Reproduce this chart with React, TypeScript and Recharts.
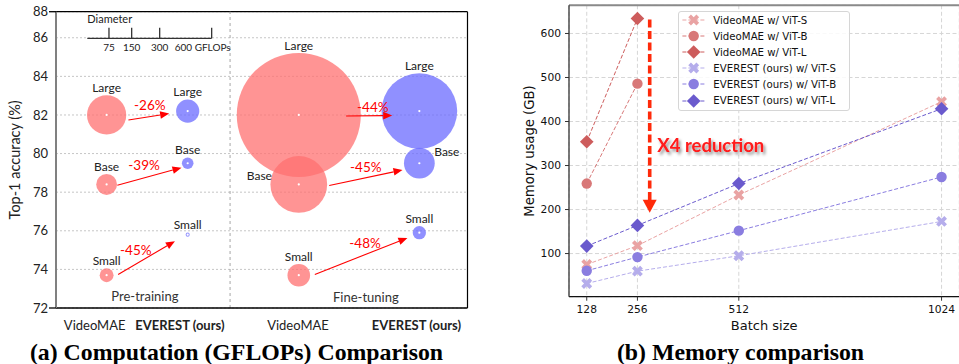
import React from 'react';
import {
  ScatterChart,
  Scatter,
  LineChart,
  Line,
  XAxis,
  YAxis,
  CartesianGrid,
  ReferenceLine,
  ReferenceDot,
  Legend,
} from 'recharts';

const SANS = 'Lato, "Open Sans", sans-serif';
const MPL = '"DejaVu Sans", sans-serif';
const SERIF = '"Liberation Serif", "Times New Roman", serif';

// ---------- (a) top-1 accuracy vs computation ----------
const MODEL_SIZES = ['Small', 'Base', 'Large'];
const VIDEOMAE_ACC = [73.7, 78.4, 82.0];
const EVEREST_PT_ACC = [75.8, 79.5, 82.2];
const EVEREST_FT_ACC = [75.9, 79.5, 82.2];
// GFLOPs
const VIDEOMAE_PT_GFLOPS = [48, 72, 133];
const EVEREST_PT_GFLOPS = [14, 40, 80];
const VIDEOMAE_FT_GFLOPS = [78, 216, 598];
const EVEREST_FT_GFLOPS = [46, 105, 319];
const PT_CUT = ['-45%', '-39%', '-26%'];
const FT_CUT = ['-48%', '-45%', '-44%'];
const SCALE_GFLOPS = [75, 150, 300, 600];
const GROUP_LABELS = ['VideoMAE', 'EVEREST (ours)', 'VideoMAE', 'EVEREST (ours)'];
const STAGES = ['Pre-training', 'Fine-tuning'];
const ACC_TICKS = [72, 74, 76, 78, 80, 82, 84, 86, 88];

// ---------- (b) memory vs batch size ----------
const BATCH_SIZES = [128, 256, 512, 1024];
const VIDEOMAE_S_MEM = [75, 118, 233, 445];
const VIDEOMAE_B_MEM = [259, 486, null, null];
const VIDEOMAE_L_MEM = [354, 634, null, null];
const EVEREST_S_MEM = [32, 60, 95, 173];
const EVEREST_B_MEM = [61, 92, 152, 274];
const EVEREST_L_MEM = [117, 164, 259, 429];
const MEM_TICKS = [100, 200, 300, 400, 500, 600];

// layout of panel (a): x runs 0..100 across the frame
const Y_TOP = 87.35; // frame top, the figure's "88" line
const GROUP_X = [12.3, 32, 59, 88.3];
const GROUP_LABEL_X = [9.4, 30.1, 58.8, 87.6];
const DIVIDER_X = 42.3;
const SCALE_PX = [21.7, 44.4, 72.4, 124.4]; // drawn diameter of SCALE_GFLOPS
const SCALE_ORIGIN = [{ x: 7.6, y: 85.97 }];
const ARROWS = [
  [[15.1, 73.74], [28.9, 75.46]],
  [[14.9, 78.36], [30.5, 79.27]],
  [[17.6, 81.74], [27.5, 82.07]],
  [[62.9, 73.74], [85.4, 75.63]],
  [[66.4, 78.35], [84.2, 79.15]],
  [[70.5, 81.95], [81.7, 81.97]],
];
const CUT_POS = [[19.4, 75.0], [21.4, 79.4], [22.8, 82.48], [75.1, 75.35], [75.3, 79.31], [77.0, 82.38]];
const STAGE_POS = [[21.6, 72.62], [75.3, 72.53]];

const RED_FILL = '#ff7070';
const BLUE_FILL = '#6b6bff';
const ARROW_RED = '#ff0000';

function diameterOf(g: number) {
  let pg = 0;
  let pd = 0;
  for (let i = 0; i < SCALE_GFLOPS.length; i++) {
    const sg = SCALE_GFLOPS[i];
    const sd = SCALE_PX[i];
    if (g <= sg || i === SCALE_GFLOPS.length - 1) {
      return pd + ((g - pg) * (sd - pd)) / (sg - pg);
    }
    pg = sg;
    pd = sd;
  }
  return 0;
}

const makeBubbles = (group: number, acc: number[], gflops: number[], sides?: string[]) =>
  MODEL_SIZES.map((name, i) => ({
    x: GROUP_X[group],
    y: acc[i],
    g: gflops[i],
    name,
    side: sides ? sides[i] : 'top',
  }));

const videomaeBubbles = [
  ...makeBubbles(0, VIDEOMAE_ACC, VIDEOMAE_PT_GFLOPS),
  ...makeBubbles(2, VIDEOMAE_ACC, VIDEOMAE_FT_GFLOPS, ['top', 'left', 'top']),
];
const everestBubbles = [
  ...makeBubbles(1, EVEREST_PT_ACC, EVEREST_PT_GFLOPS),
  ...makeBubbles(3, EVEREST_FT_ACC, EVEREST_FT_GFLOPS, ['top', 'right', 'top']),
];
const cutLabels = [...PT_CUT, ...FT_CUT].map((text, i) => ({ x: CUT_POS[i][0], y: CUT_POS[i][1], text }));
const stageLabels = STAGES.map((text, i) => ({ x: STAGE_POS[i][0], y: STAGE_POS[i][1], text }));
const arrowData = ARROWS.map((a) => a.map(([x, y]) => ({ x, y })));

function Bubble(props: any) {
  const { cx, cy, payload, color } = props;
  if (cx == null || cy == null) return <g />;
  const r = diameterOf(payload.g) / 2;
  let label;
  if (payload.side === 'left') {
    label = (
      <text x={cx - r + 1.5} y={cy - 9} dy="0.35em" textAnchor="end">
        {payload.name}
      </text>
    );
  } else if (payload.side === 'right') {
    label = (
      <text x={cx + r - 0.5} y={cy - 11} dy="0.35em" textAnchor="start">
        {payload.name}
      </text>
    );
  } else {
    label = (
      <text x={cx} y={cy - r - 7.5} dy="0.35em" textAnchor="middle">
        {payload.name}
      </text>
    );
  }
  return (
    <g fontFamily={SANS} fontSize={12} fill="#222">
      <circle cx={cx} cy={cy} r={r} fill={color} fillOpacity={0.75} />
      <circle cx={cx} cy={cy} r={1.1} fill="#fff" />
      {label}
    </g>
  );
}

function renderArrow(p: any) {
  const pts = p.points;
  if (!pts || pts.length < 2) return <g />;
  const [a, b] = pts;
  const ang = Math.atan2(b.y - a.y, b.x - a.x);
  const len = 9;
  const half = 3.8;
  const bx = b.x - len * Math.cos(ang);
  const by = b.y - len * Math.sin(ang);
  const nx = -Math.sin(ang) * half;
  const ny = Math.cos(ang) * half;
  return (
    <g>
      <line x1={a.x} y1={a.y} x2={bx} y2={by} stroke={ARROW_RED} strokeWidth={1.1} />
      <polygon points={`${b.x},${b.y} ${bx + nx},${by + ny} ${bx - nx},${by - ny}`} fill={ARROW_RED} />
    </g>
  );
}

function ScaleBar(props: any) {
  const { cx, cy } = props;
  if (cx == null || cy == null) return <g />;
  const end = cx + diameterOf(SCALE_GFLOPS[SCALE_GFLOPS.length - 1]);
  return (
    <g fontFamily={SANS} fill="#222">
      <text x={cx} y={cy - 19} dy="0.35em" fontSize={11}>
        Diameter
      </text>
      <line x1={cx} y1={cy} x2={end} y2={cy} stroke="#333" strokeWidth={1.3} />
      {SCALE_GFLOPS.map((g, i) => {
        const tx = cx + diameterOf(g);
        const last = i === SCALE_GFLOPS.length - 1;
        return (
          <g key={g}>
            <line x1={tx} y1={cy - 10.5} x2={tx} y2={cy} stroke="#333" strokeWidth={1.3} />
            <text x={last ? tx - 9 : tx} y={cy + 9.5} dy="0.35em" fontSize={10} textAnchor="middle">
              {last ? `${g} GFLOPs` : g}
            </text>
          </g>
        );
      })}
    </g>
  );
}

function CutText(props: any) {
  const { cx, cy, payload } = props;
  if (cx == null || cy == null) return <g />;
  return (
    <text x={cx} y={cy} dy="0.35em" textAnchor="middle" fontFamily={SANS} fontSize={13.5} fill={ARROW_RED}>
      {payload.text}
    </text>
  );
}

function StageText(props: any) {
  const { cx, cy, payload } = props;
  if (cx == null || cy == null) return <g />;
  return (
    <text x={cx} y={cy} dy="0.35em" textAnchor="middle" fontFamily={SANS} fontSize={13} fill="#333">
      {payload.text}
    </text>
  );
}

function GroupTick(props: any) {
  const { x, y, index } = props;
  const label = GROUP_LABELS[index] ?? '';
  return (
    <text
      x={x}
      y={y}
      dy="0.71em"
      textAnchor="middle"
      fontFamily={SANS}
      fontSize={13}
      fontWeight={label.startsWith('EVEREST') ? 700 : 400}
      fill="#222"
    >
      {label}
    </text>
  );
}

function AccTick(props: any) {
  const { x, y, index } = props;
  const edge = index === 0 || index === ACC_TICKS.length - 1;
  return (
    <g>
      {edge && <line x1={x + 1} y1={y} x2={x + 8} y2={y} stroke="#000" strokeWidth={1.3} />}
      <text x={x} y={y} dy="0.35em" textAnchor="end" fontFamily={SANS} fontSize={13} fill="#222">
        {ACC_TICKS[index]}
      </text>
    </g>
  );
}

function ComputationChart() {
  const yTicks = ACC_TICKS.map((t) => (t > Y_TOP ? Y_TOP : t));
  return (
    <ScatterChart width={480} height={364} margin={{ top: 11.7, right: 12.5, bottom: 26, left: 12 }}>
      <CartesianGrid vertical={false} stroke="#c6c6c6" strokeDasharray="2 2" />
      <XAxis
        type="number"
        dataKey="x"
        domain={[0, 100]}
        ticks={GROUP_LABEL_X}
        tick={<GroupTick />}
        tickLine={false}
        tickSize={0}
        tickMargin={12.5}
        axisLine={{ stroke: '#000', strokeWidth: 1.6 }}
        height={30}
        allowDataOverflow
      />
      <YAxis
        type="number"
        dataKey="y"
        domain={[72, Y_TOP]}
        ticks={yTicks}
        tick={<AccTick />}
        tickLine={false}
        tickSize={7}
        tickMargin={1}
        axisLine={{ stroke: '#808080', strokeWidth: 2 }}
        width={44}
        allowDataOverflow
        label={{
          value: 'Top-1 accuracy (%)',
          angle: -90,
          position: 'insideLeft',
          offset: 3.3,
          style: { textAnchor: 'middle', fontFamily: SANS, fontSize: 14.5, fill: '#222' },
        }}
      />
      <ReferenceLine y={Y_TOP} stroke="#000" strokeWidth={1.2} />
      <ReferenceLine x={100} stroke="#000" strokeWidth={1.2} />
      <ReferenceLine x={DIVIDER_X} stroke="#a6a6a6" strokeDasharray="3 3" />
      <Scatter data={SCALE_ORIGIN} shape={(p: any) => <ScaleBar {...p} />} isAnimationActive={false} />
      <Scatter
        data={videomaeBubbles}
        shape={(p: any) => <Bubble {...p} color={RED_FILL} />}
        isAnimationActive={false}
      />
      <Scatter
        data={everestBubbles}
        shape={(p: any) => <Bubble {...p} color={BLUE_FILL} />}
        isAnimationActive={false}
      />
      {arrowData.map((d, i) => (
        <Scatter
          key={`arrow-${i}`}
          data={d}
          line={renderArrow}
          lineType="joint"
          shape={() => <g />}
          isAnimationActive={false}
        />
      ))}
      <Scatter data={cutLabels} shape={(p: any) => <CutText {...p} />} isAnimationActive={false} />
      <Scatter data={stageLabels} shape={(p: any) => <StageText {...p} />} isAnimationActive={false} />
    </ScatterChart>
  );
}

// ---------- panel (b) ----------
const SERIES = [
  { key: 'vmS', name: 'VideoMAE w/ ViT-S', values: VIDEOMAE_S_MEM, color: '#e9a3a3', marker: 'x' },
  { key: 'vmB', name: 'VideoMAE w/ ViT-B', values: VIDEOMAE_B_MEM, color: '#d87878', marker: 'o' },
  { key: 'vmL', name: 'VideoMAE w/ ViT-L', values: VIDEOMAE_L_MEM, color: '#cd5c5c', marker: 'd' },
  { key: 'evS', name: 'EVEREST (ours) w/ ViT-S', values: EVEREST_S_MEM, color: '#b5adeb', marker: 'x' },
  { key: 'evB', name: 'EVEREST (ours) w/ ViT-B', values: EVEREST_B_MEM, color: '#8a7de0', marker: 'o' },
  { key: 'evL', name: 'EVEREST (ours) w/ ViT-L', values: EVEREST_L_MEM, color: '#6a5acd', marker: 'd' },
];

const memData = BATCH_SIZES.map((batch, i) => {
  const row: Record<string, number | null> = { batch };
  SERIES.forEach((s) => {
    row[s.key] = s.values[i];
  });
  return row;
});

const X_ARM = 5.8;
const X_HALF = 1.9;
const X_POINTS = [
  [-X_HALF, -X_ARM], [X_HALF, -X_ARM], [X_HALF, -X_HALF], [X_ARM, -X_HALF],
  [X_ARM, X_HALF], [X_HALF, X_HALF], [X_HALF, X_ARM], [-X_HALF, X_ARM],
  [-X_HALF, X_HALF], [-X_ARM, X_HALF], [-X_ARM, -X_HALF], [-X_HALF, -X_HALF],
]
  .map((p) => p.join(','))
  .join(' ');

function Marker({ kind, cx, cy, color }: { kind: string; cx: number; cy: number; color: string }) {
  if (kind === 'x') {
    return <polygon points={X_POINTS} transform={`translate(${cx},${cy}) rotate(45)`} fill={color} />;
  }
  if (kind === 'o') {
    return <circle cx={cx} cy={cy} r={5.2} fill={color} />;
  }
  return <polygon points="0,-6.8 6.8,0 0,6.8 -6.8,0" transform={`translate(${cx},${cy})`} fill={color} />;
}

function MemLegend() {
  return (
    <div
      style={{
        boxSizing: 'border-box',
        width: 172,
        height: 100,
        border: '1px solid #d6d6d6',
        borderRadius: 3,
        background: 'rgba(255,255,255,0.85)',
        fontFamily: MPL,
        fontSize: 10.2,
        color: '#111',
      }}
    >
      {SERIES.map((s) => (
        <div key={s.key} style={{ height: 16.1, display: 'flex', alignItems: 'center' }}>
          <svg width={30} height={16} style={{ flexShrink: 0 }}>
            <line x1={3.4} x2={25.7} y1={8} y2={8} stroke={s.color} strokeWidth={1} strokeDasharray="4 2" />
            <Marker kind={s.marker} cx={14.7} cy={8} color={s.color} />
          </svg>
          <span style={{ marginLeft: 4, whiteSpace: 'nowrap' }}>{s.name}</span>
        </div>
      ))}
    </div>
  );
}

function RedArrow(props: any) {
  const { x1, y1, x2, y2 } = props;
  if ([x1, y1, x2, y2].some((v) => v == null)) return <g />;
  const head = 13;
  return (
    <g>
      <line x1={x1} y1={y1} x2={x2} y2={y2 - head + 1} stroke="#ff2a0a" strokeWidth={3.6} strokeDasharray="8 3.5" />
      <polygon points={`${x2},${y2} ${x2 - 7},${y2 - head} ${x2 + 7},${y2 - head}`} fill="#ff2a0a" />
    </g>
  );
}

function ReductionText(props: any) {
  const { cx, cy } = props;
  if (cx == null || cy == null) return <g />;
  return (
    <g>
      <defs>
        <filter id="x4shadow" x="-20%" y="-60%" width="140%" height="220%">
          <feDropShadow dx="2" dy="2.5" stdDeviation="1.8" floodColor="#000" floodOpacity="0.45" />
        </filter>
      </defs>
      <text
        x={cx}
        y={cy}
        dy="0.35em"
        fontFamily={SANS}
        fontWeight={700}
        fontSize={18.5}
        fill="#ff1a1a"
        filter="url(#x4shadow)"
      >
        X4 reduction
      </text>
    </g>
  );
}

function MemoryChart() {
  const tickStyle = { fontFamily: MPL, fontSize: 10.7, fill: '#111' };
  return (
    <LineChart width={480} height={364} data={memData} margin={{ top: 5.3, right: 0.7, bottom: 33.3, left: 49 }}>
      <CartesianGrid stroke="#d6d6d6" strokeDasharray="4 2.5" />
      <XAxis
        type="number"
        dataKey="batch"
        domain={[83.2, 1068.8]}
        ticks={BATCH_SIZES}
        tick={tickStyle}
        tickSize={4}
        tickMargin={5}
        tickLine={{ stroke: '#333' }}
        axisLine={{ stroke: '#111', strokeWidth: 1.3 }}
        height={34}
        allowDataOverflow
        label={{
          value: 'Batch size',
          position: 'insideBottom',
          offset: 0.7,
          style: { fontFamily: MPL, fontSize: 13, fill: '#111' },
        }}
      />
      <YAxis
        type="number"
        domain={[2, 664]}
        ticks={MEM_TICKS}
        tick={tickStyle}
        tickSize={4}
        tickMargin={4}
        tickLine={{ stroke: '#333' }}
        axisLine={{ stroke: '#333', strokeWidth: 1.3 }}
        width={40}
        allowDataOverflow
        label={{
          value: 'Memory usage (GB)',
          angle: -90,
          position: 'insideLeft',
          offset: 0,
          style: { textAnchor: 'middle', fontFamily: MPL, fontSize: 13.2, fill: '#111' },
        }}
      />
      <ReferenceLine y={664} stroke="#8a8a8a" strokeWidth={2} />
      {SERIES.map((s) => (
        <Line
          key={s.key}
          dataKey={s.key}
          name={s.name}
          stroke={s.color}
          strokeWidth={1}
          strokeDasharray="4 2"
          connectNulls={false}
          isAnimationActive={false}
          activeDot={false}
          dot={(p: any) =>
            p.cx == null || p.cy == null || p.value == null ? (
              <g key={`${s.key}-${p.index}`} />
            ) : (
              <Marker key={`${s.key}-${p.index}`} kind={s.marker} cx={p.cx} cy={p.cy} color={s.color} />
            )
          }
        />
      ))}
      <ReferenceLine
        segment={[
          { x: 287, y: 632 },
          { x: 287, y: 192.5 },
        ]}
        shape={(p: any) => <RedArrow {...p} />}
      />
      <ReferenceDot x={306.2} y={345} r={0} shape={(p: any) => <ReductionText {...p} />} />
      <Legend
        layout="vertical"
        align="center"
        verticalAlign="middle"
        content={() => <MemLegend />}
        wrapperStyle={{ left: 198.3, top: 11, width: 172, height: 100 }}
      />
    </LineChart>
  );
}

export default function App() {
  const caption = {
    position: 'absolute' as const,
    top: 340,
    fontFamily: SERIF,
    fontWeight: 700,
    fontSize: 23.8,
    lineHeight: '24px',
    textAlign: 'center' as const,
    color: '#000',
    whiteSpace: 'nowrap' as const,
  };
  return (
    <div style={{ position: 'absolute', left: 0, top: 0, width: 959, height: 364, overflow: 'hidden', background: '#fff' }}>
      <div style={{ position: 'absolute', left: 0, top: 0 }}>
        <ComputationChart />
      </div>
      <div style={{ position: 'absolute', left: 480, top: 0 }}>
        <MemoryChart />
      </div>
      <div style={{ ...caption, left: 0, width: 473 }}>(a) Computation (GFLOPs) Comparison</div>
      <div style={{ ...caption, left: 500.5, width: 480 }}>(b) Memory comparison</div>
    </div>
  );
}
